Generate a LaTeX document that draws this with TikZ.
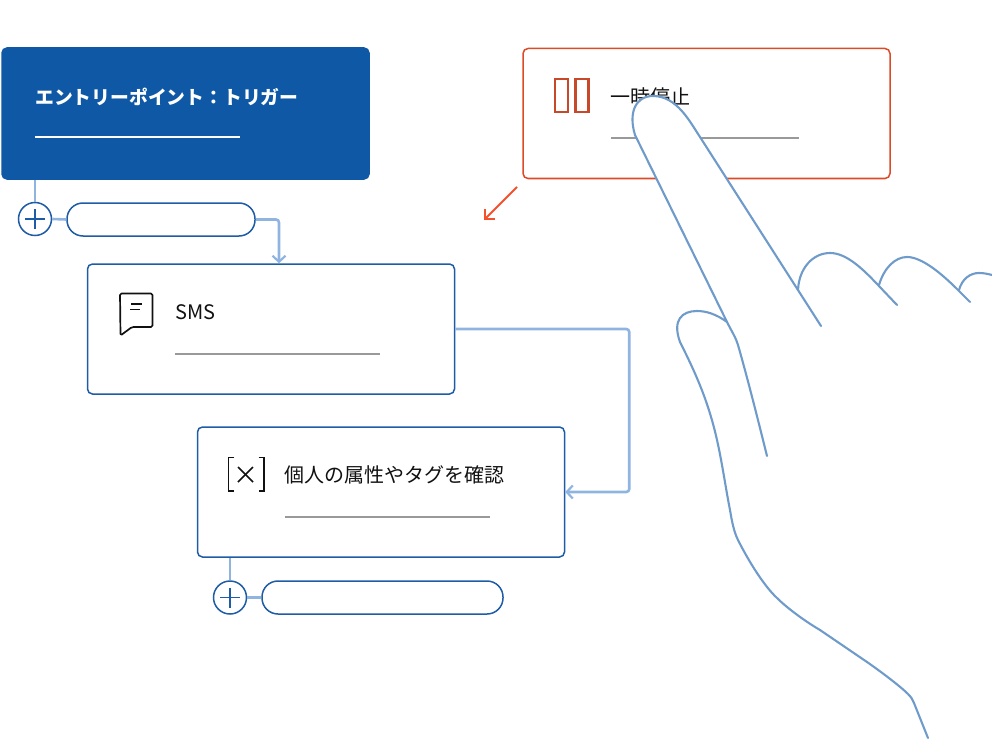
\documentclass[tikz,border=0pt]{standalone}
\usepackage{fontspec}
\usepackage{xcolor}
\usetikzlibrary{arrows.meta,calc}
\setmainfont{Noto Sans CJK JP}
\definecolor{darkblue}{HTML}{0F58A6}
\definecolor{cardblue}{HTML}{1F5CA6}
\definecolor{linkblue}{HTML}{8FB4E0}
\definecolor{handblue}{HTML}{6F9BCB}
\definecolor{darkred}{HTML}{DC4A26}
\definecolor{iconred}{HTML}{C8482A}
\definecolor{brightred}{HTML}{F5502A}
\definecolor{bargray}{HTML}{999999}
\definecolor{inkblack}{HTML}{111111}
\tikzset{
  cardbox/.style={draw=cardblue,line width=1.5pt,fill=white,rounded corners=5pt,
    minimum width=367pt,minimum height=130pt,inner sep=0pt},
  pillbox/.style={draw=cardblue,line width=1.5pt,fill=white,rounded corners=16pt,
    minimum height=33pt,inner sep=0pt},
  plusbtn/.style={circle,draw=cardblue,line width=1.5pt,fill=white,
    minimum size=33pt,inner sep=0pt},
  label/.style={anchor=west,inner sep=0pt,text=inkblack,font=\fontsize{20}{24}\selectfont},
  link/.style={draw=linkblue,line width=2.6pt,rounded corners=3pt},
  linktip/.style={-{Straight Barb[length=6pt,width=13pt,line width=2.2pt]}},
  bar/.style={draw=bargray,line width=2.4pt},
  handline/.style={draw=handblue,line width=2.1pt,line cap=round}
}
\begin{document}
\begin{tikzpicture}[x=1pt,y=-1pt]
  \useasboundingbox (0,0) rectangle (992,738);

  % Trigger card
  \node[cardbox,fill=darkblue,draw=darkblue,minimum width=367pt,minimum height=131pt] (entry) at (185.5,113.5) {};
  \node[label,text=white,font=\fontsize{18.8}{24}\selectfont\bfseries] (entrytext) at (35,96.5) {エントリーポイント：トリガー};
  \draw[draw=white,line width=1.8pt] (35,137) -- (240,137);

  % Add button under trigger
  \node[plusbtn] (plusa) at (35,219) {};
  \node[pillbox,minimum width=188pt] (pilla) at (161,219.5) {};
  \draw[cardblue,line width=1.3pt] ([xshift=-10pt]plusa.center) -- ([xshift=10pt]plusa.center);
  \draw[cardblue,line width=1.3pt] ([yshift=-10pt]plusa.center) -- ([yshift=10pt]plusa.center);

  % SMS card
  \node[cardbox] (sms) at (271,329) {};
  \node[label] (smstext) at (175,312.5) {SMS};
  \draw[bar] (175,354) -- (380,354);
  \draw[inkblack,line width=1.7pt,line join=round,rounded corners=1.5pt]
    (120,293.5) -- (152.5,293.5) -- (152.5,327) -- (132,327) -- (120.5,335.5) -- cycle;
  \draw[inkblack,line width=1.5pt] (131,304) -- (142,304);
  \draw[inkblack,line width=1.5pt] (130,309.5) -- (140,309.5);

  % Check card
  \node[cardbox] (check) at (381,492) {};
  \node[label] (checktext) at (284.5,475) {個人の属性やタグを確認};
  \draw[bar] (285,517) -- (490,517);
  \draw[inkblack,line width=1.7pt] (234,457.5) -- (228.5,457.5) -- (228.5,491) -- (234,491);
  \draw[inkblack,line width=1.7pt] (258.5,457.5) -- (264,457.5) -- (264,491) -- (258.5,491);
  \draw[inkblack,line width=1.5pt] (238,467) -- (253,482);
  \draw[inkblack,line width=1.5pt] (253,467) -- (238,482);

  % Add button under check
  \node[plusbtn] (plusb) at (230,597.5) {};
  \node[pillbox,minimum width=241pt] (pillb) at (382.5,597.5) {};
  \draw[cardblue,line width=1.3pt] ([xshift=-10pt]plusb.center) -- ([xshift=10pt]plusb.center);
  \draw[cardblue,line width=1.3pt] ([yshift=-10pt]plusb.center) -- ([yshift=10pt]plusb.center);

  % Connectors
  \draw[link] (entry.south -| plusa.north) -- (plusa.north);
  \draw[link] (plusa.east) -- (pilla.west);
  \draw[link,linktip] (pilla.east) -| (sms.north -| 279,0);
  \draw[link,linktip] (sms.east) -- ++(174,0) |- (check.east);
  \draw[link] (check.south -| plusb.north) -- (plusb.north);
  \draw[link] (plusb.east) -- (pillb.west);

  % Pause card
  \node[cardbox,draw=darkred] (pause) at (706.5,113.5) {};
  \node[label] (pausetext) at (610,96.5) {一時停止};
  \draw[bar] (611,138) -- (799,138);
  \draw[iconred,line width=2.1pt] (555,79) rectangle (568,112);
  \draw[iconred,line width=2.1pt] (575.5,79) rectangle (588.5,112);

  % Red arrow
  \coordinate (redfrom) at (517,187);
  \coordinate (redto) at (484,220);
  \draw[brightred,line width=2pt,-{Straight Barb[length=7pt,width=14pt,line width=2pt]}] (redfrom) -- (redto);

  % Pointing finger
  \path[fill=white,handline] (821,326) -- (700,137)
    .. controls (690,122) and (677,96) .. (653,96)
    .. controls (636,96) and (628,112) .. (635,135)
    -- (727,322)
    .. controls (732,332) and (736,338) .. (738,345)
    .. controls (748,380) and (758,420) .. (767,456);

  % Thumb and wrist
  \draw[handline] (727,322)
    .. controls (716,314) and (706,311) .. (697,311)
    .. controls (682,311) and (672,320) .. (680,342)
    .. controls (695,372) and (708,400) .. (717,440)
    .. controls (722,462) and (726,490) .. (730,510)
    .. controls (732,522) and (734,532) .. (738,540)
    .. controls (746,556) and (762,584) .. (777,598)
    .. controls (786,607) and (803,620) .. (820,630)
    -- (867,662)
    .. controls (880,671) and (900,686) .. (908,694)
    .. controls (911,697) and (913,700) .. (914,703)
    -- (928,738);

  % Other fingers
  \draw[handline] (798,290) .. controls (799,268) and (813,253) .. (830,253)
    .. controls (846,253) and (862,268) .. (878,285) -- (897,305);
  \draw[handline] (879,285) .. controls (884,268) and (895,257) .. (907,257)
    .. controls (922,257) and (942,274) .. (958,290) -- (970,302);
  \draw[handline] (959,290) .. controls (962,279) and (970,273) .. (979,273)
    .. controls (984,273) and (988,274) .. (992,275);
\end{tikzpicture}
\end{document}
